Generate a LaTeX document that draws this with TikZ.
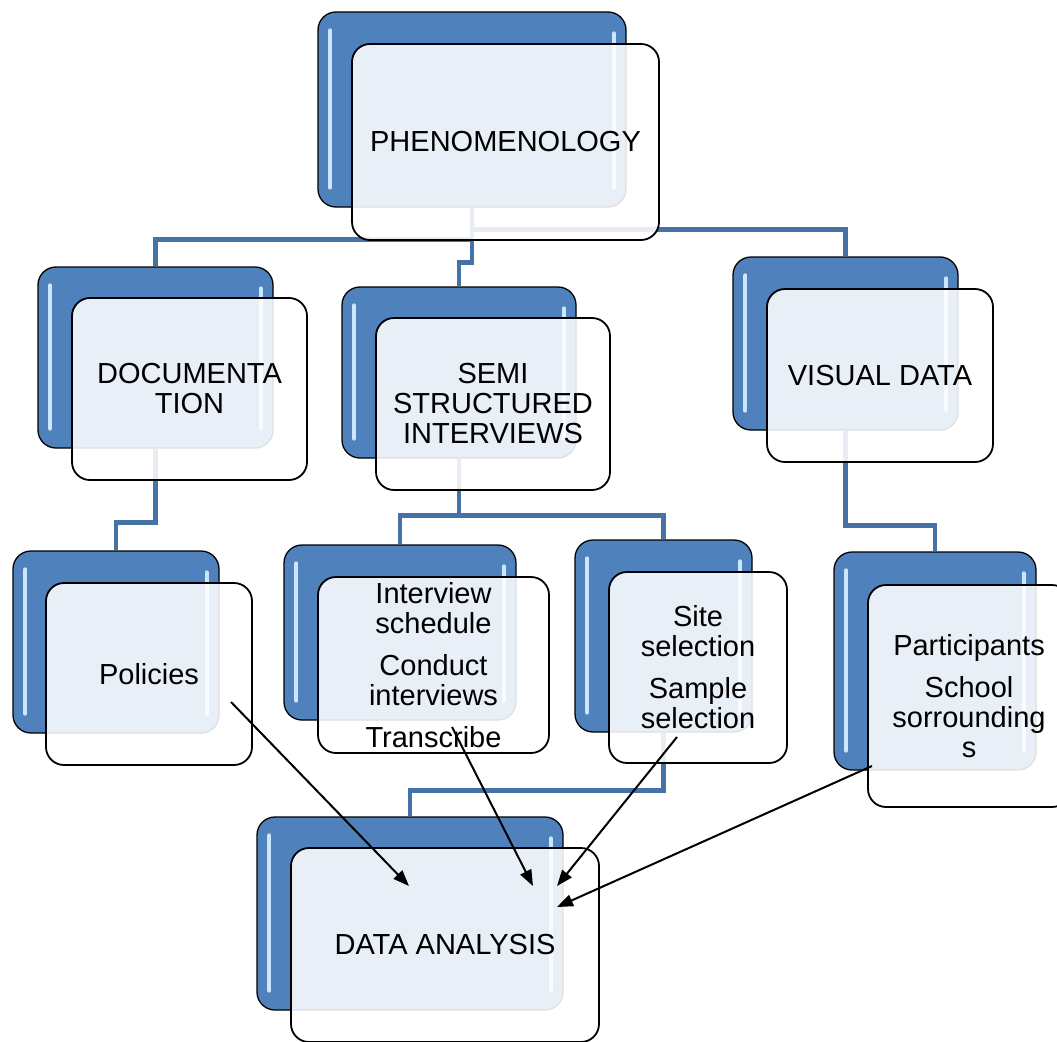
\documentclass[tikz,border=0pt]{standalone}
\usepackage{fontspec}
\setmainfont{Liberation Sans}
\usetikzlibrary{arrows.meta,backgrounds}

\definecolor{smartblue}{RGB}{79,129,189}
\definecolor{linkblue}{RGB}{69,114,167}
\definecolor{glint}{RGB}{205,230,255}

\tikzset{
  backbox/.style={draw=black, line width=1.3pt, rounded corners=18pt,
    fill=smartblue, inner sep=0pt},
  frontbox/.style={draw=black, line width=1.8pt, rounded corners=18pt,
    fill=white, fill opacity=0.88, text opacity=1, align=center,
    inner sep=0pt, font=\fontsize{29}{30}\selectfont},
  glintline/.style={draw=glint, line width=4pt, line cap=round},
  link/.style={draw=linkblue, line width=4.8pt},
  flow/.style={draw=black, line width=2pt, -{Triangle[length=16pt,width=12pt]}}
}

\begin{document}
\begin{tikzpicture}[x=1pt,y=-1pt]
  \useasboundingbox (0,0) rectangle (1057,1041);

  % back boxes
  \node[backbox, minimum width=308pt, minimum height=195pt] (phenback) at (472,109.5) {};
  \node[backbox, minimum width=235pt, minimum height=181pt] (docback) at (155.5,357.5) {};
  \node[backbox, minimum width=234pt, minimum height=171pt] (semiback) at (459,372.5) {};
  \node[backbox, minimum width=225pt, minimum height=173pt] (visback) at (845.5,343.5) {};
  \node[backbox, minimum width=206pt, minimum height=182pt] (polback) at (116,642) {};
  \node[backbox, minimum width=232pt, minimum height=175pt] (intback) at (400,632.5) {};
  \node[backbox, minimum width=177pt, minimum height=192pt] (siteback) at (663.5,636) {};
  \node[backbox, minimum width=202pt, minimum height=218pt] (partback) at (935,661) {};
  \node[backbox, minimum width=306pt, minimum height=193pt] (databack) at (410,913.5) {};

  % glints on the blue boxes
  \foreach \b in {phenback,docback,semiback,visback,polback,intback,siteback,partback,databack}{
    \draw[glintline] ([xshift=13pt,yshift=-19pt]\b.north west) -- ([xshift=13pt,yshift=20pt]\b.south west);
    \draw[glintline] ([xshift=-13pt,yshift=-22pt]\b.north east) -- ([xshift=-13pt,yshift=20pt]\b.south east);
  }

  % front boxes
  \node[frontbox, minimum width=307pt, minimum height=196pt] (phen) at (505.5,142) {PHENOMENOLOGY};
  \node[frontbox, minimum width=235pt, minimum height=182pt] (doc) at (189.5,389) {DOCUMENTA\\TION};
  \node[frontbox, minimum width=234pt, minimum height=172pt] (semi) at (493,404) {SEMI\\STRUCTURED\\INTERVIEWS};
  \node[frontbox, minimum width=226pt, minimum height=173pt] (vis) at (880,375.5) {VISUAL DATA};
  \node[frontbox, minimum width=206pt, minimum height=182pt] (pol) at (149,674) {Policies};
  \node[frontbox, minimum width=231pt, minimum height=176pt] (int) at (433.5,665)
    {Interview\\schedule\\[12pt]Conduct\\interviews\\[12pt]Transcribe};
  \node[frontbox, minimum width=178pt, minimum height=191pt] (site) at (698,667.5)
    {Site\\selection\\[12pt]Sample\\selection};
  \node[frontbox, minimum width=202pt, minimum height=222pt] (part) at (969,696)
    {Participants\\[12pt]School\\sorrounding\\s};
  \node[frontbox, minimum width=308pt, minimum height=194pt] (data) at (445,945) {DATA ANALYSIS};

  % blue hierarchy lines
  \begin{scope}[on background layer]
    \draw[link] (phenback.south) -- ++(0,22) -| (visback.north);
    \draw[link] (phenback.south) -- ++(0,32) -| (docback.north);
    \draw[link] (phenback.south) -- ++(0,55) -| (semiback.north);
    \draw[link] (docback.south) -- ++(0,74) -| (polback.north);
    \draw[link] (semiback.south) -- ++(0,57) -| (intback.north);
    \draw[link] (semiback.south) -- ++(0,57) -| (siteback.north);
    \draw[link] (visback.south) -- ++(0,95) -| (partback.north);
    \draw[link] (siteback.south) -- ++(0,58) -| (databack.north);
  \end{scope}

  % arrows into the analysis
  \coordinate (polout) at (231,702);
  \coordinate (intout) at (452,727);
  \coordinate (siteout) at (677,737);
  \coordinate (partout) at (872,766);
  \coordinate (datain1) at (409,886);
  \coordinate (datain2) at (533,886);
  \coordinate (datain3) at (557,886);
  \coordinate (datain4) at (557,907);
  \draw[flow] (polout) -- (datain1);
  \draw[flow] (intout) -- (datain2);
  \draw[flow] (siteout) -- (datain3);
  \draw[flow] (partout) -- (datain4);
\end{tikzpicture}
\end{document}
